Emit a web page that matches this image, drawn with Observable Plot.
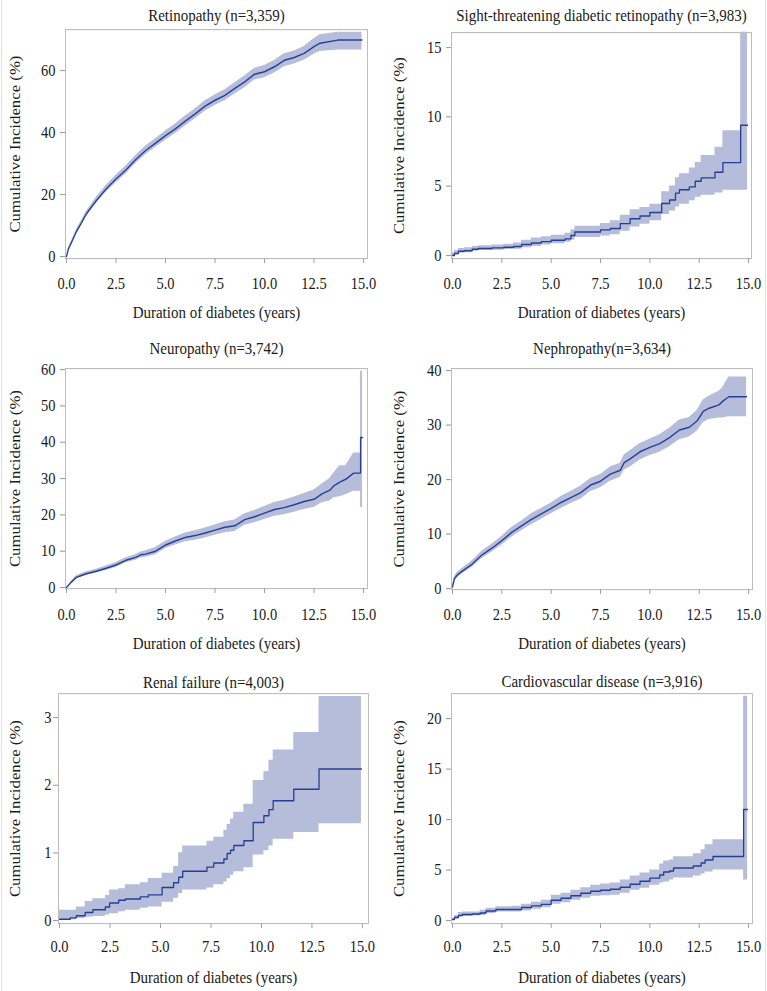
<!DOCTYPE html>
<html><head><meta charset="utf-8">
<script src="https://cdn.jsdelivr.net/npm/d3@7"></script>
<script src="https://cdn.jsdelivr.net/npm/@observablehq/plot@0.6"></script>
<style>
body{margin:0;background:#fff;}
#fig{position:relative;width:767px;height:991px;overflow:hidden;background:#fff;}
.panel{position:absolute;transform-origin:0 0;}
.edge{position:absolute;top:0;width:0;height:991px;border-left:1px solid #e0e0e0;}
</style></head><body>
<div id="fig"></div>
<script>
// ---------- data ----------
const xTicks = [0, 2.5, 5, 7.5, 10, 12.5, 15];
const xLabel = "Duration of diabetes (years)";
const yLabel = "Cumulative Incidence (%)";

// Retinopathy (n=3,359)
const retinoYears = [0, 0.1, 0.25, 0.5, 0.75, 1, 1.5, 2, 2.5, 3, 3.5, 4, 4.5, 5, 5.5, 6, 6.5, 7, 7.5, 8, 8.5, 9, 9.5, 10, 10.5, 11, 11.5, 12, 12.5, 12.8, 13.7, 14.92];
const retinoEst = [0, 2.5, 4.5, 8, 10.8, 13.7, 18, 21.8, 25, 27.9, 31.3, 34.2, 36.6, 39, 41.2, 43.7, 46, 48.5, 50.4, 52, 54.2, 56.3, 58.8, 59.6, 61.2, 63.3, 64.2, 65.5, 67.7, 68.8, 69.8, 69.8];
const retinoLo = [0, 2.2, 4.0, 7.4, 10.1, 12.9, 17.0, 20.7, 23.8, 26.6, 30.0, 32.8, 35.2, 37.5, 39.7, 42.1, 44.4, 46.8, 48.7, 50.2, 52.4, 54.4, 56.9, 57.6, 59.2, 61.2, 62.1, 63.3, 65.2, 66.1, 66.6, 66.6];
const retinoHi = [0, 2.8, 5.0, 8.6, 11.5, 14.5, 19.0, 22.9, 26.2, 29.2, 32.6, 35.6, 38.0, 40.5, 42.7, 45.3, 47.6, 50.2, 52.1, 53.8, 56.0, 58.2, 60.7, 61.6, 63.2, 65.4, 66.3, 67.7, 70.2, 71.5, 72.3, 72.3];

// Sight-threatening diabetic retinopathy (n=3,983)
const stdrYears = [0, 0.1, 0.3, 0.6, 1.0, 1.3, 2.0, 2.6, 3.1, 3.5, 4.0, 4.5, 5.0, 5.7, 6.0, 6.2, 7.5, 8.0, 8.5, 9.0, 9.5, 10.0, 10.6, 11.0, 11.3, 11.5, 12.0, 12.3, 12.6, 13.3, 13.7, 14.6, 14.95];
const stdrEst = [0, 0.15, 0.3, 0.35, 0.45, 0.5, 0.55, 0.6, 0.65, 0.8, 0.9, 1.0, 1.1, 1.2, 1.45, 1.7, 1.85, 1.95, 2.3, 2.65, 2.85, 3.1, 3.75, 4.0, 4.5, 4.75, 4.95, 5.35, 5.6, 6.0, 6.7, 9.4, 9.4];
const stdrLo = [0, 0.05, 0.15, 0.2, 0.3, 0.35, 0.38, 0.42, 0.45, 0.55, 0.65, 0.75, 0.85, 0.95, 1.1, 1.3, 1.4, 1.5, 1.75, 2.05, 2.25, 2.5, 2.95, 3.2, 3.5, 3.7, 3.95, 4.2, 4.35, 4.5, 4.7, 4.7, 4.7];
const stdrHi = [0.2, 0.35, 0.5, 0.55, 0.65, 0.7, 0.75, 0.8, 0.9, 1.1, 1.25, 1.35, 1.45, 1.6, 1.85, 2.1, 2.3, 2.5, 2.9, 3.3, 3.45, 3.7, 4.6, 5.0, 5.6, 5.9, 6.3, 6.7, 7.2, 7.8, 9.0, 16.1, 16.1];

// Neuropathy (n=3,742)
const neuroYears = [0, 0.25, 0.5, 0.75, 1, 1.5, 2, 2.5, 3, 3.5, 3.75, 4, 4.5, 5, 5.5, 6, 6.5, 7, 7.5, 8, 8.5, 9, 9.5, 10, 10.5, 11, 11.5, 12, 12.5, 12.9, 13.3, 13.5, 13.8, 14.1, 14.5, 14.85, 14.85, 14.95];
const neuroEst = [0, 1.5, 2.8, 3.3, 3.8, 4.5, 5.3, 6.2, 7.5, 8.3, 9.0, 9.2, 10.0, 11.7, 12.8, 13.8, 14.3, 15.0, 15.8, 16.6, 17.0, 18.7, 19.5, 20.5, 21.5, 22.0, 22.8, 23.7, 24.3, 25.8, 26.8, 28.0, 29.0, 29.8, 31.5, 31.5, 41.3, 41.3];
const neuroLo = [0, 1.2, 2.4, 2.8, 3.3, 4.0, 4.7, 5.5, 6.8, 7.5, 8.2, 8.3, 9.0, 10.7, 11.7, 12.6, 13.0, 13.6, 14.4, 15.1, 15.4, 17.1, 17.8, 18.7, 19.6, 20.0, 20.7, 21.5, 22.0, 23.3, 23.8, 24.7, 25.0, 25.5, 26.5, 26.5, 22.0, 22.0];
const neuroHi = [0, 1.8, 3.2, 3.8, 4.3, 5.0, 5.9, 6.9, 8.2, 9.1, 9.8, 10.1, 11.0, 12.7, 13.9, 15.0, 15.6, 16.4, 17.2, 18.1, 18.6, 20.3, 21.2, 22.3, 23.4, 24.0, 24.9, 25.9, 26.8, 28.5, 30.0, 31.5, 33.5, 33.5, 37.0, 37.0, 59.5, 59.5];

// Nephropathy (n=3,634)
const nephroYears = [0, 0.1, 0.25, 0.5, 1, 1.5, 2, 2.5, 3, 3.5, 4, 4.5, 5, 5.5, 6, 6.5, 7, 7.5, 8, 8.5, 8.7, 9, 9.5, 10, 10.5, 11, 11.5, 12, 12.4, 12.7, 13, 13.5, 13.7, 14.0, 14.9];
const nephroEst = [0.3, 1.8, 2.5, 3.2, 4.5, 6.2, 7.4, 8.8, 10.3, 11.5, 12.7, 13.7, 14.7, 15.8, 16.7, 17.6, 19.0, 19.7, 21.0, 21.7, 23.1, 23.8, 25.1, 25.9, 26.6, 27.7, 29.1, 29.6, 30.8, 32.5, 33.1, 33.7, 34.4, 35.2, 35.2];
const nephroLo = [0.1, 1.4, 2.0, 2.7, 3.9, 5.5, 6.7, 8.0, 9.4, 10.6, 11.7, 12.7, 13.7, 14.7, 15.6, 16.4, 17.8, 18.5, 19.7, 20.4, 21.7, 22.3, 23.6, 24.4, 25.0, 26.0, 27.3, 27.8, 28.9, 30.4, 31.0, 31.3, 31.3, 31.5, 31.5];
const nephroHi = [0.6, 2.2, 3.0, 3.7, 5.1, 6.9, 8.1, 9.6, 11.2, 12.4, 13.7, 14.7, 15.7, 16.9, 17.8, 18.8, 20.2, 20.9, 22.3, 23.0, 24.5, 25.3, 26.6, 27.4, 28.2, 29.4, 30.9, 31.4, 32.7, 34.6, 35.3, 36.2, 36.9, 38.8, 38.8];

// Renal failure (n=4,003)
const renalYears = [0, 0.53, 0.83, 1.27, 1.65, 2.27, 2.48, 2.93, 3.26, 4.0, 4.4, 5.08, 5.65, 5.9, 6.1, 7.3, 7.64, 8.14, 8.3, 8.47, 8.63, 9.13, 9.59, 10.12, 10.37, 10.58, 11.6, 12.85, 14.95];
const renalEst = [0.02, 0.04, 0.07, 0.12, 0.16, 0.2, 0.26, 0.3, 0.32, 0.35, 0.38, 0.49, 0.56, 0.64, 0.73, 0.79, 0.85, 0.91, 0.99, 1.04, 1.11, 1.18, 1.45, 1.55, 1.64, 1.77, 1.94, 2.24, 2.24];
const renalLo = [0, 0.01, 0.03, 0.05, 0.06, 0.08, 0.1, 0.13, 0.15, 0.18, 0.2, 0.27, 0.33, 0.4, 0.45, 0.48, 0.53, 0.57, 0.62, 0.67, 0.72, 0.78, 0.97, 1.03, 1.1, 1.2, 1.3, 1.43, 1.43];
const renalHi = [0.15, 0.15, 0.2, 0.28, 0.32, 0.37, 0.45, 0.47, 0.53, 0.56, 0.62, 0.7, 0.8, 1.0, 1.1, 1.17, 1.23, 1.33, 1.42, 1.5, 1.6, 1.72, 2.07, 2.2, 2.37, 2.52, 2.78, 3.31, 3.31];

// Cardiovascular disease (n=3,916)
const cvdYears = [0, 0.1, 0.3, 0.5, 1.0, 1.4, 1.7, 2.2, 3.0, 3.5, 4.0, 4.5, 5.0, 5.5, 6.0, 6.5, 7.0, 7.5, 8.0, 8.5, 9.0, 9.5, 10.0, 10.5, 10.7, 11.0, 11.2, 12.2, 12.6, 12.8, 13.2, 14.75, 14.95];
const cvdEst = [0.1, 0.3, 0.5, 0.6, 0.65, 0.75, 0.95, 1.1, 1.1, 1.3, 1.45, 1.6, 2.0, 2.2, 2.45, 2.7, 2.9, 3.0, 3.1, 3.3, 3.6, 3.9, 4.2, 4.5, 4.8, 4.9, 5.2, 5.4, 5.7, 6.0, 6.35, 11.0, 11.0];
const cvdLo = [0, 0.15, 0.35, 0.4, 0.45, 0.5, 0.7, 0.85, 0.85, 0.95, 1.1, 1.25, 1.6, 1.75, 2.0, 2.2, 2.4, 2.45, 2.5, 2.7, 3.0, 3.2, 3.5, 3.7, 3.8, 4.0, 4.2, 4.4, 4.6, 4.8, 5.0, 4.0, 4.0];
const cvdHi = [0.2, 0.5, 0.8, 0.85, 0.85, 1.0, 1.2, 1.35, 1.4, 1.6, 1.8, 2.0, 2.5, 2.7, 3.0, 3.25, 3.5, 3.6, 3.7, 4.0, 4.4, 4.7, 5.0, 5.6, 5.9, 6.0, 6.3, 6.6, 7.0, 7.5, 8.0, 22.2, 22.2];

// ---------- layout ----------
const S = 1.12; // vertical stretch of the original figure
const panels = [
  {title: "Retinopathy (n=3,359)", x: retinoYears, est: retinoEst, lo: retinoLo, hi: retinoHi, curve: "linear", yTicks: [0, 20, 40, 60],
   left: 0, top: 0, w: 384, h: 330, frame: [65, 367, 29, 258], xDomain: [-0.05, 15.2], yDomain: [-0.65, 73.2], titleY: 15, tickY: 283, xLabelY: 312, yLabelX: 15, yPad: 5},
  {title: "Sight-threatening diabetic retinopathy (n=3,983)", x: stdrYears, est: stdrEst, lo: stdrLo, hi: stdrHi, curve: "step-after", yTicks: [0, 5, 10, 15],
   left: 384, top: 0, w: 383, h: 330, frame: [67, 367, 32, 258], xDomain: [-0.05, 15.15], yDomain: [-0.22, 16.08], titleY: 15, tickY: 283, xLabelY: 312, yLabelX: 15, yPad: 5},
  {title: "Neuropathy (n=3,742)", x: neuroYears, est: neuroEst, lo: neuroLo, hi: neuroHi, curve: "linear", yTicks: [0, 10, 20, 30, 40, 50, 60],
   left: 0, top: 330, w: 384, h: 330, frame: [65, 367, 38, 258], xDomain: [-0.05, 15.2], yDomain: [-0.28, 60.28], titleY: 18, tickY: 284, xLabelY: 313, yLabelX: 15, yPad: 5},
  {title: "Nephropathy(n=3,634)", x: nephroYears, est: nephroEst, lo: nephroLo, hi: nephroHi, curve: "linear", yTicks: [0, 10, 20, 30, 40],
   left: 384, top: 330, w: 383, h: 330, frame: [67, 368, 38, 259], xDomain: [-0.05, 15.2], yDomain: [-0.18, 40.37], titleY: 18, tickY: 284, xLabelY: 313, yLabelX: 15, yPad: 5},
  {title: "Renal failure (n=4,003)", x: renalYears, est: renalEst, lo: renalLo, hi: renalHi, curve: "step-after", yTicks: [0, 1, 2, 3],
   left: 0, top: 660, w: 384, h: 331, frame: [58, 368, 33, 263], xDomain: [-0.05, 15.3], yDomain: [-0.044, 3.355], titleY: 22, tickY: 286, xLabelY: 317, yLabelX: 15, yPad: 2},
  {title: "Cardiovascular disease (n=3,916)", x: cvdYears, est: cvdEst, lo: cvdLo, hi: cvdHi, curve: "step-after", yTicks: [0, 5, 10, 15, 20],
   left: 384, top: 660, w: 383, h: 331, frame: [67, 368, 33, 263], xDomain: [-0.05, 15.2], yDomain: [-0.3, 22.48], titleY: 21, tickY: 286, xLabelY: 317, yLabelX: 15, yPad: 5}
];

const FONT = "'Liberation Serif', 'Times New Roman', serif";
const TXT = "#1a1a1a";
const BAND = "#b5bdda";
const LINE = "#263f94";
const FRAME = "#bdbdbd";
const TICK = "#a0a0a0";
const tickFont = 14.5;

const fig = document.getElementById("fig");

for (const p of panels) {
  const rows = p.x.map((t, i) => ({t, est: p.est[i], lo: p.lo[i], hi: p.hi[i]}));
  const [L, R, T, B] = p.frame;
  const tickSizeX = 5 / S;
  const tickPadX = (p.tickY - B) / S - 0.38 * tickFont - tickSizeX;
  const chart = Plot.plot({
    width: p.w,
    height: p.h / S,
    marginLeft: L,
    marginRight: p.w - R,
    marginTop: T / S,
    marginBottom: (p.h - B) / S,
    style: {fontFamily: FONT, background: "transparent", overflow: "visible", color: TXT},
    x: {domain: p.xDomain},
    y: {domain: p.yDomain},
    marks: [
      Plot.areaY(rows, {x: "t", y1: "lo", y2: "hi", curve: p.curve, fill: BAND}),
      Plot.lineY(rows, {x: "t", y: "est", curve: p.curve, stroke: LINE, strokeWidth: 1.3}),
      Plot.frame({stroke: FRAME}),
      Plot.axisX({ticks: xTicks, tickFormat: d3.format(".1f"), tickSize: tickSizeX, tickPadding: tickPadX,
                  fontSize: tickFont, label: null, stroke: TICK, fill: TXT}),
      Plot.axisY({ticks: p.yTicks, tickFormat: d3.format("d"), tickSize: 5, tickPadding: p.yPad,
                  fontSize: tickFont, label: null, stroke: TICK, fill: TXT}),
      Plot.text([p.title], {text: d => d, frameAnchor: "top", dy: (p.titleY - T) / S, lineAnchor: "middle",
                            textAnchor: "middle", fontSize: 15, fill: TXT}),
      Plot.text([xLabel], {text: d => d, frameAnchor: "bottom", dy: (p.xLabelY - B) / S, lineAnchor: "middle",
                           textAnchor: "middle", fontSize: 15, fill: TXT}),
      Plot.text([yLabel], {text: d => d, frameAnchor: "left", dx: p.yLabelX - L, rotate: -90, lineAnchor: "middle",
                           textAnchor: "middle", fontSize: 15, fill: TXT})
    ]
  });
  const wrap = document.createElement("div");
  wrap.className = "panel";
  wrap.style.left = p.left + "px";
  wrap.style.top = p.top + "px";
  wrap.style.width = p.w + "px";
  wrap.style.transform = `scaleY(${S})`;
  wrap.appendChild(chart);
  fig.appendChild(wrap);
}

for (const x of [1, 765]) {
  const e = document.createElement("div");
  e.className = "edge";
  e.style.left = x + "px";
  fig.appendChild(e);
}
</script>
</body></html>
